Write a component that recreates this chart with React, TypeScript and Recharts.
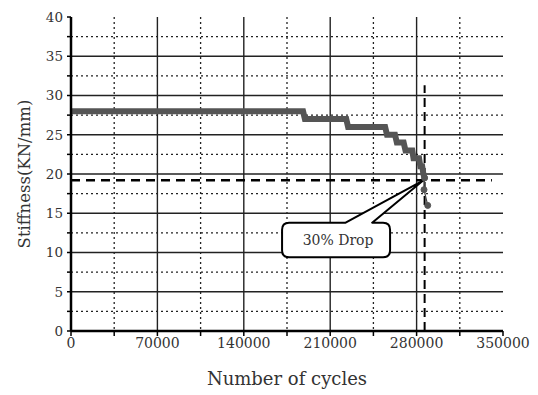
import {
  ComposedChart,
  Line,
  XAxis,
  YAxis,
  CartesianGrid,
  ReferenceLine,
  ReferenceArea,
  Label,
} from 'recharts'

// tick values
const xMajor = [70000, 140000, 210000, 280000]
const xMinor = [35000, 105000, 175000, 245000, 315000]
const xTicks = [0, 35000, 70000, 105000, 140000, 175000, 210000, 245000, 280000, 315000, 350000]
const yMajor = [5, 10, 15, 20, 25, 30, 35]
const yMinor = [2.5, 7.5, 12.5, 17.5, 22.5, 27.5, 32.5, 37.5]
const yTicks = [0, 2.5, 5, 7.5, 10, 12.5, 15, 17.5, 20, 22.5, 25, 27.5, 30, 32.5, 35, 37.5, 40]

// stiffness readings (cycles, KN/mm)
const cycles = [0, 188000, 189500, 223000, 224500, 254500, 256000, 262500, 264000, 269500, 271000, 276500, 277500, 282000, 283000, 284500, 285500, 286500]
const stiffness = [28, 28, 27, 27, 26, 26, 25, 25, 24, 24, 23, 23, 22, 22, 21, 21, 20, 19.5]
// last isolated readings after failure
const tailCycles = [286500, 286000, 289000]
const tailStiffness = [19.5, 18, 16]

// 30% drop markers
const dropStiffness = 19.2
const dropCycles = 286500
const dropLineEnd = 341000
const dropLineTop = 31.3

// callout box (data units) and where its pointer leaves the box
const calloutX = [171000, 258500]
const calloutY = [9.4, 13.8]
const calloutNotch = [222500, 244000]

const mainData = cycles.map((c, i) => ({ c, s: stiffness[i] }))
const tailData = tailCycles.map((c, i) => ({ c, t: tailStiffness[i] }))

const serif = 'DejaVu Serif'

// eslint-disable-next-line @typescript-eslint/no-explicit-any
function Callout(props: any) {
  const { x, y, width, height } = props
  const sx = width / (calloutX[1] - calloutX[0])
  const sy = height / (calloutY[1] - calloutY[0])
  const tipX = x + (dropCycles - 1000 - calloutX[0]) * sx
  const tipY = y + (calloutY[1] - dropStiffness) * sy
  const n1 = x + (calloutNotch[0] - calloutX[0]) * sx
  const n2 = x + (calloutNotch[1] - calloutX[0]) * sx
  const r = 7
  const w = width
  const h = height
  const d = `M${x + r},${y} L${n1},${y} L${tipX},${tipY} L${n2},${y} L${x + w - r},${y}
    Q${x + w},${y} ${x + w},${y + r} L${x + w},${y + h - r} Q${x + w},${y + h} ${x + w - r},${y + h}
    L${x + r},${y + h} Q${x},${y + h} ${x},${y + h - r} L${x},${y + r} Q${x},${y} ${x + r},${y} Z`
  return (
    <g>
      <path d={d} fill="#fff" stroke="#000" strokeWidth={2} strokeLinejoin="round" />
      <text
        x={x + w / 2 + 2}
        y={y + h / 2 + 5}
        textAnchor="middle"
        fontFamily={serif}
        fontSize={14}
        fill="#333"
      >
        30% Drop
      </text>
    </g>
  )
}

export default function App() {
  return (
    <div style={{ position: 'absolute', left: 0, top: 0, background: '#fff' }}>
      <ComposedChart width={538} height={395} margin={{ top: 17, right: 35, bottom: 34, left: 0 }}>
        {/* minor dotted grid */}
        <CartesianGrid
          horizontalValues={yMinor}
          verticalValues={xMinor}
          stroke="#222"
          strokeDasharray="2 3"
          strokeWidth={1.3}
        />
        {/* major solid grid */}
        <CartesianGrid horizontalValues={yMajor} verticalValues={xMajor} stroke="#222" strokeWidth={1.4} />
        <XAxis
          type="number"
          dataKey="c"
          domain={[0, 350000]}
          ticks={xTicks}
          interval={0}
          tickFormatter={(v) => (v % 70000 === 0 ? String(v) : '')}
          tick={{ fontSize: 14, fill: '#333', fontFamily: serif }}
          axisLine={{ stroke: '#000', strokeWidth: 2.5 }}
          tickLine={{ stroke: '#000', strokeWidth: 1.5 }}
          tickSize={5}
          tickMargin={2}
          height={30}
          allowDataOverflow
        >
          <Label
            value="Number of cycles"
            position="bottom"
            offset={11}
            style={{ fontSize: 18, fill: '#333', fontFamily: serif }}
          />
        </XAxis>
        <YAxis
          type="number"
          domain={[0, 40]}
          ticks={yTicks}
          interval={0}
          tickFormatter={(v) => (v % 5 === 0 ? String(v) : '')}
          tick={{ fontSize: 13.5, fill: '#333', fontFamily: serif }}
          axisLine={{ stroke: '#000', strokeWidth: 2.5 }}
          tickLine={{ stroke: '#000', strokeWidth: 1.5 }}
          tickSize={4}
          tickMargin={4}
          width={71}
        >
          <Label
            value="Stiffness(KN/mm)"
            angle={-90}
            position="insideLeft"
            offset={24}
            style={{ textAnchor: 'middle', fontSize: 16.5, fill: '#333', fontFamily: serif }}
          />
        </YAxis>
        {/* 30% drop guide lines */}
        <ReferenceLine
          segment={[
            { x: 0, y: dropStiffness },
            { x: dropLineEnd, y: dropStiffness },
          ]}
          stroke="#000"
          strokeWidth={2.5}
          strokeDasharray="9 6"
        />
        <ReferenceLine
          segment={[
            { x: dropCycles, y: 0 },
            { x: dropCycles, y: dropLineTop },
          ]}
          stroke="#000"
          strokeWidth={2}
          strokeDasharray="9 5"
        />
        <ReferenceArea
          x1={calloutX[0]}
          x2={calloutX[1]}
          y1={calloutY[0]}
          y2={calloutY[1]}
          shape={<Callout />}
        />
        <Line
          data={mainData}
          dataKey="s"
          type="linear"
          stroke="#555"
          strokeWidth={6}
          dot={false}
          isAnimationActive={false}
        />
        <Line
          data={tailData}
          dataKey="t"
          type="linear"
          stroke="#444"
          strokeWidth={1.2}
          dot={{ r: 3, fill: '#555', stroke: '#555', strokeWidth: 1 }}
          isAnimationActive={false}
        />
      </ComposedChart>
    </div>
  )
}
